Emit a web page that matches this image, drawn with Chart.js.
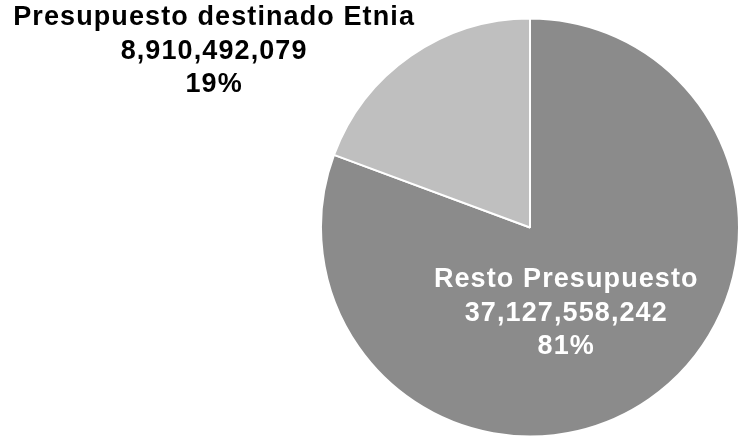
<!DOCTYPE html>
<html>
<head>
<meta charset="utf-8">
<script src="https://cdn.jsdelivr.net/npm/chart.js@4/dist/chart.umd.min.js"></script>
<style>
  html, body { margin: 0; padding: 0; background: #ffffff; }
  #wrap { position: relative; width: 740px; height: 441px; }
</style>
</head>
<body>
<div id="wrap"><canvas id="c" width="740" height="441"></canvas></div>
<script>
const categories = ['Resto Presupuesto', 'Presupuesto destinado Etnia'];
const values = [37127558242, 8910492079];
const sliceColors = ['#8b8b8b', '#bfbfbf'];
const labelColors = ['#ffffff', '#000000'];

const FONT = 'bold 27px "Liberation Sans", Arial, sans-serif';
const SPACING = 1.1;
const LINE_H = 33.5;

function drawSpaced(ctx, text, cx, baseline) {
  const widths = Array.from(text).map(ch => ctx.measureText(ch).width);
  const total = widths.reduce((a, b) => a + b, 0) + SPACING * (text.length - 1);
  let x = cx - total / 2;
  Array.from(text).forEach((ch, i) => {
    ctx.fillText(ch, x, baseline);
    x += widths[i] + SPACING;
  });
}

const labelPlugin = {
  id: 'sliceLabels',
  afterDatasetsDraw(chart) {
    const ctx = chart.ctx;
    const meta = chart.getDatasetMeta(0);
    const total = values.reduce((a, b) => a + b, 0);
    // label anchor offsets in units of the pie radius
    const anchors = [[0.171, 0.286], [-1.514, -0.967]];
    ctx.save();
    ctx.font = FONT;
    ctx.textAlign = 'left';
    ctx.textBaseline = 'alphabetic';
    meta.data.forEach((arc, i) => {
      const p = arc.getProps(['x', 'y', 'outerRadius'], true);
      const cx = p.x + anchors[i][0] * p.outerRadius;
      const by = p.y + anchors[i][1] * p.outerRadius;
      const lines = [
        categories[i],
        values[i].toLocaleString('en-US'),
        Math.round(values[i] / total * 100) + '%'
      ];
      ctx.fillStyle = labelColors[i];
      lines.forEach((t, k) => drawSpaced(ctx, t, cx, by + k * LINE_H));
    });
    ctx.restore();
  }
};

new Chart(document.getElementById('c'), {
  type: 'pie',
  data: {
    labels: categories,
    datasets: [{
      data: values,
      backgroundColor: sliceColors,
      borderColor: '#ffffff',
      borderWidth: 2,
      hoverBorderWidth: 2
    }]
  },
  options: {
    responsive: false,
    animation: false,
    rotation: 0,
    layout: { padding: { left: 320, right: 0, top: 17, bottom: 3 } },
    plugins: { legend: { display: false }, tooltip: { enabled: false } },
    events: []
  },
  plugins: [labelPlugin]
});
</script>
</body>
</html>
